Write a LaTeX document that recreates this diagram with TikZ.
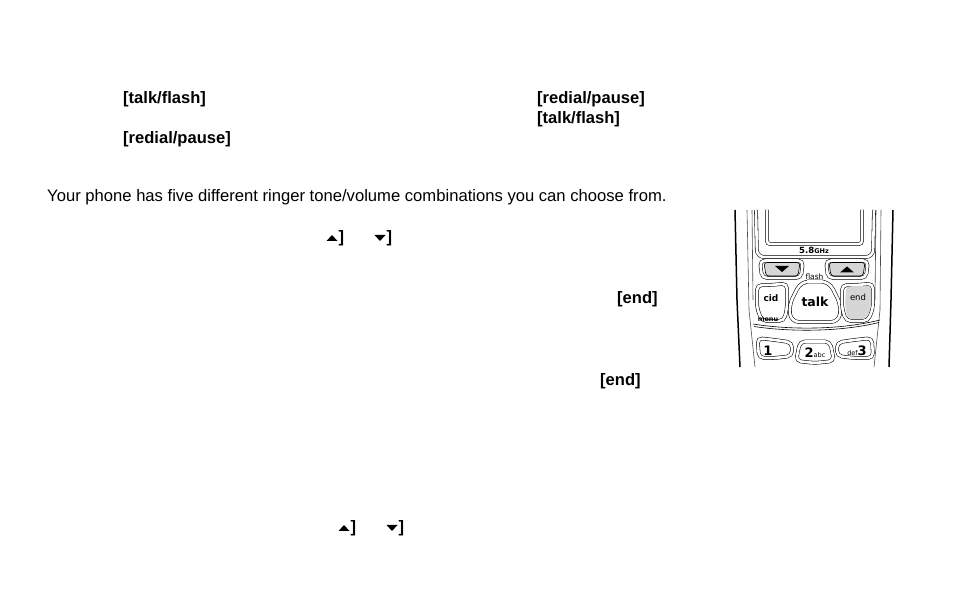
\documentclass[tikz,border=0pt]{standalone}
\usepackage{fontspec}
\setmainfont{Liberation Sans}
\newfontfamily\keyfont{DejaVu Sans}
\usetikzlibrary{positioning}
\definecolor{keygray}{gray}{0.84}
\tikzset{
  txt/.style={anchor=base west,inner sep=0pt,font=\fontsize{16.63}{20}\selectfont},
  key/.style={txt,font=\fontsize{16.55}{20}\selectfont\bfseries},
  btn/.style={draw,line width=0.55pt,double,double distance=2.6pt,rounded corners=5pt},
  inner key/.style={draw,line width=0.6pt,fill=keygray,rounded corners=3pt},
  keylabel/.style={inner sep=0pt,font=\keyfont\fontsize{8.5}{9}\selectfont},
  digit/.style={inner sep=0pt,font=\keyfont\fontsize{13}{14}\selectfont\bfseries},
  body/.style={line width=0.6pt,black!70},
  edgeline/.style={line width=1.5pt},
}
\newcommand{\uptri}[3]{\fill (#1,#2) -- ++(#3,0) -- ++(-#3/2,-6) -- cycle;}
\newcommand{\dntri}[3]{\fill (#1,#2) -- ++(#3,0) -- ++(-#3/2,6) -- cycle;}
\begin{document}
\begin{tikzpicture}[x=1pt,y=-1pt]
  \useasboundingbox (0,0) rectangle (954,609);

  % text
  \node[key] (tf1) at (123,103.5) {[talk/flash]};
  \node[key] (rp1) at (537,103.5) {[redial/pause]};
  \node[key] (tf2) at (537,123.5) {[talk/flash]};
  \node[key] (rp2) at (123,143.5) {[redial/pause]};
  \node[txt] (intro) at (47,201.5) {Your phone has five different ringer tone/volume combinations you can choose from.};
  \node[key] (end1) at (617,303.5) {[end]};
  \node[key] (end2) at (600,385.5) {[end]};
  \node[key] (br1) at (338.5,242.5) {]};
  \node[key] (br2) at (386.5,242.5) {]};
  \node[key] (br3) at (350.5,532.5) {]};
  \node[key] (br4) at (398.5,532.5) {]};
  \uptri{326.5}{241}{11}
  \dntri{374.5}{235}{11}
  \uptri{338.5}{531}{11}
  \dntri{386.5}{525}{11}

  % handset edges
  \draw[edgeline] (735,210) -- (737,300) -- (740,367);
  \draw[edgeline] (893,210) -- (891,300) -- (889,367);
  \draw[body] (747,210) -- (749,310) -- (755,367);
  \draw[body] (752,210) -- (753,300);
  \draw[body] (881,210) -- (880,310) -- (874,367);
  \draw[body] (876,210) -- (875,300);

  % display
  \draw[btn,rounded corners=7pt] (756,210) -- (757,257) -- (873,257) -- (874,210);
  \draw[btn,rounded corners=3pt] (767,210) -- (767,244) -- (862,244) -- (862,210);
  \node[inner sep=0pt,font=\keyfont\fontsize{8.5}{9}\selectfont\bfseries] (band) at (814,250) {5.8{\fontsize{6.5}{7}\selectfont GHz}};

  % arrow keys
  \draw[btn] (781,260.5) -- (803,260.5) -- (801,278) -- (762,278) -- (760,260.5) -- cycle;
  \draw[inner key] (781,262.5) -- (800,262.5) -- (798,276) -- (766,276) -- (764,262.5) -- cycle;
  \draw[btn] (846,260.5) -- (868,260.5) -- (866,278) -- (828,278) -- (826,260.5) -- cycle;
  \draw[inner key] (846,262.5) -- (865,262.5) -- (863,276) -- (831,276) -- (829,262.5) -- cycle;
  \dntri{775}{266}{14}
  \uptri{840}{272.5}{14}
  \node[keylabel,font=\keyfont\fontsize{7.5}{8}\selectfont] (flash) at (814.5,277) {flash};

  % top row
  \draw[btn] (771,285) -- (787,283.5) -- (787,308) -- (784,321) -- (762,321) -- (757,308) -- (757,285) -- cycle;
  \node[keylabel,font=\keyfont\fontsize{9}{10}\selectfont\bfseries] (cid) at (771,298) {cid};
  \draw[btn,rounded corners=8pt] (815,281.5) -- (829,281.5) -- (841,305) -- (839,322) -- (791,322) -- (789,305) -- (801,281.5) -- cycle;
  \node[inner sep=0pt,font=\keyfont\fontsize{12.5}{13}\selectfont\bfseries] (talk) at (815,302) {talk};
  \draw[btn] (857,285) -- (873,283.5) -- (873,308) -- (868,321) -- (846,321) -- (842,308) -- (842,285) -- cycle;
  \fill[keygray,rounded corners=4pt] (846,286.5) -- (871,285.5) -- (871,307) -- (866,319) -- (848,319) -- (845,307) -- cycle;
  \node[keylabel] (end) at (858,297) {end};
  \node[keylabel,font=\keyfont\fontsize{6.5}{7}\selectfont\bfseries] (menu) at (768,320) {menu};

  % separator
  \draw[line width=0.6pt] (753,324) .. controls (790,330) and (840,330) .. (880,320);
  \draw[line width=0.6pt] (754,326.5) .. controls (790,332) and (840,332) .. (879,322.5);

  % number row
  \draw[btn] (775,340) -- (792,342.5) -- (792,356) -- (775,358) -- (759,358) -- (757.5,338) -- cycle;
  \node[digit] (one) at (768,350.5) {1};
  \draw[btn] (815,341.5) -- (830,341.5) -- (834,361) -- (815,363) -- (796,361) -- (800,341.5) -- cycle;
  \node[inner sep=0pt] (two) at (815,353) {\keyfont\fontsize{13}{14}\selectfont\bfseries 2{\fontsize{6.5}{7}\selectfont\mdseries abc}};
  \draw[btn] (854,340) -- (872,338) -- (873,358) -- (854,358) -- (837,356) -- (837,342.5) -- cycle;
  \node[inner sep=0pt] (three) at (857,351) {\keyfont{\fontsize{6.5}{7}\selectfont def}\fontsize{13}{14}\selectfont\bfseries 3};
\end{tikzpicture}
\end{document}
